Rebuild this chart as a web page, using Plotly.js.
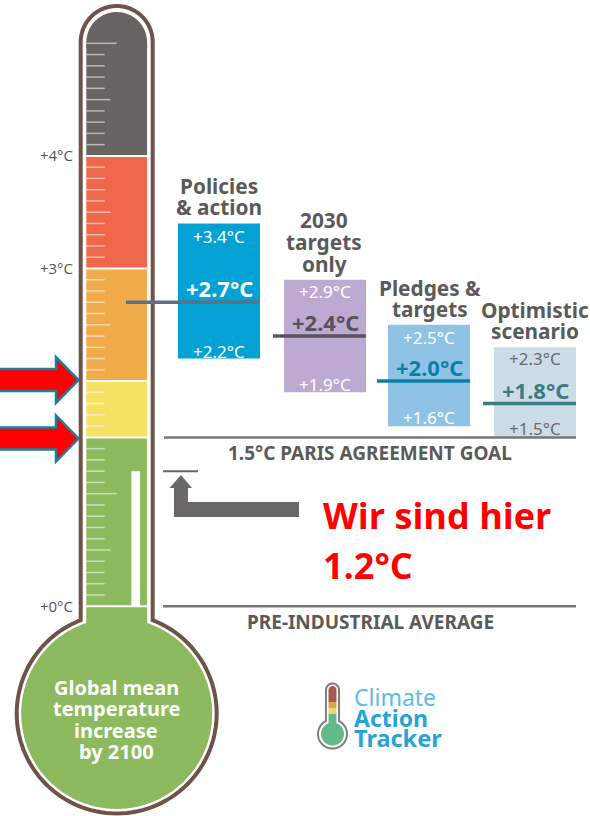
<!DOCTYPE html>
<html><head><meta charset="utf-8">
<script src="https://cdn.plot.ly/plotly-3.0.1.min.js"></script>
<style>html,body{margin:0;padding:0;background:#fff;overflow:hidden}#c{width:590px;height:816px}</style>
</head><body><div id="c"></div>
<script>
// ---- data ----
const scenarioNames = [['Policies','& action'],['2030','targets','only'],['Pledges &','targets'],['Optimistic','scenario']];
const scenarioLow  = [2.2,1.9,1.6,1.5];
const scenarioHigh = [3.4,2.9,2.5,2.3];
const scenarioMean = [2.7,2.4,2.0,1.8];
const bandFrom = [0,1.5,2,3,4];
const bandTo   = [1.5,2,3,4,5];
const axisTicks = [0,3,4];
const axisLabels = ['+0°C','+3°C','+4°C'];
const currentTemp = 1.2;
const parisGoal = 1.5;
const preIndustrial = 0;
const shortTicks = [0.1,0.2,0.3,0.4,0.6,0.7,0.8,0.9,1.1,1.2,1.3,1.4,1.6,1.7,1.8,1.9,2.1,2.2,2.3,2.4,2.6,2.7,2.8,2.9,3.1,3.2,3.3,3.4,3.6,3.7,3.8,3.9,4.1,4.2,4.3,4.4,4.6,4.7,4.8,4.9];
const midTicks = [0.5,2.5,3.5,4.5];
const longTicks = [1,5];

// ---- layout constants ----
const W=590,H=816;
const px=x=>x/W, py=y=>1-y/H;
const colCentre=[219,325,429,535], colWidth=82;
const titleCentre=[219,324,430,535];
const meanStart=[126,273,377,483], meanEnd=[260,366,470,576];
const boxColors=['#03a1d4','#bcaad0','#8fc3e6','#cbdee8'];
const meanColors=['#5d7183','#5a5262','#0c7fa9','#3e7b80'];
const valColors=['#fff','#fff','#fff','#6b6b6b'];
const meanTextColors=['#fff','#57505f','#0c7fa9','#3e7b80'];
const bandColors=['#8db95f','#f5e163','#f2ab4a','#f0684b','#686462'];
const highY=[236,291,337,358], meanY=[288,322,367,390], lowY=[351,384,418,428];
const titleLineY=[[186,207],[220,242,264],[288,309],[310,331]];
const grey='#5b5a5a';
const font='"Noto Sans"';

function arc(cx,cy,r,a0,a1){const n=Math.ceil(Math.abs(a1-a0)/3);const p=[];
  for(let i=0;i<=n;i++){const a=(a0+(a1-a0)*i/n)*Math.PI/180;p.push([cx+r*Math.cos(a),cy+r*Math.sin(a)]);}return p;}
function path(pts,close=true){return pts.map((q,i)=>(i?'L':'M')+px(q[0]).toFixed(5)+','+py(q[1]).toFixed(5)).join(' ')+(close?' Z':'');}
function shp(pts,fill,line,lw,layer){return {type:'path',xref:'paper',yref:'paper',path:path(pts),fillcolor:fill,line:{color:line||fill,width:lw||0},layer:layer||'below'};}
function redArrow(tipY){const t=78.5,b=56;return shp([[-4,tipY-11],[b,tipY-11],[b,tipY-23],[t,tipY],[b,tipY+23],[b,tipY+11],[-4,tipY+11]],'#ff0000','#1a7f9f',2.5,'above');}

const cx=116.7;
const outline=[...arc(cx,42,36,180,360),...arc(cx,713.5,100,-68.9,248.9)];
const bulb=[[86.3,606],[147.1,606],...arc(cx,713.5,95.5,-71.4,251.4)];
const cap=[...arc(cx,42.4,30.4,180,360),[147.1,48],[86.3,48]];
const shapes=[
  shp(outline,'#ffffff','#6f5349',4),
  shp(bulb,bandColors[0]),
  shp(cap,bandColors[4]),
  redArrow(380),redArrow(438.5),
  shp([[181,475],[192,488],[188,488],[188,502],[299,502],[299,517],[174,517],[174,488],[169.5,488]],'#696866',null,0,'above'),
  // logo
  shp([...arc(332.5,690,6.5,180,360),...arc(332.5,734,14.5,-63,243)],'#ffffff','#7d7d7d',2,'above'),
  shp([...arc(332.5,690,4,180,360),[336.5,702],[328.5,702]],'#a8584d',null,0,'above'),
  shp([[328.5,702],[336.5,702],[336.5,708],[328.5,708]],'#d9a657',null,0,'above'),
  shp([[328.5,708],[336.5,708],[336.5,714],[328.5,714]],'#e6d86a',null,0,'above'),
  shp([[328.5,714],[336.5,714],...arc(332.5,734,11.5,-70,250)],'#63b98a',null,0,'above'),
];

// ---- traces ----
const X0=86.3,X1=147.1,B=cx;
function tickTrace(levels,end){const x=[],y=[];levels.forEach(v=>{x.push(X0,end,null);y.push(v,v,null);});
  return {type:'scatter',mode:'lines',x,y,line:{color:'rgba(255,255,255,0.55)',width:1.5},hoverinfo:'skip',showlegend:false};}
const traces=[
  {type:'bar',x:bandFrom.map(()=>B),base:bandFrom,y:bandTo.map((v,i)=>v-bandFrom[i]),width:X1-X0,marker:{color:bandColors,line:{width:0}},hoverinfo:'skip'},
  {type:'bar',x:[135.7],base:[0],y:[currentTemp],width:8.7,marker:{color:'#ffffff',line:{width:0}},hoverinfo:'skip'},
  {type:'bar',x:colCentre,base:scenarioLow,y:scenarioHigh.map((v,i)=>v-scenarioLow[i]),width:colWidth,marker:{color:boxColors,line:{width:0}},hoverinfo:'skip'},
  tickTrace(shortTicks,104.7),tickTrace(midTicks,110.5),tickTrace(longTicks,116.7),
  {type:'scatter',mode:'lines',x:[X0,X1,null,X0,X1,null,X0,X1,null,X0,X1,null,X0,X1],y:[0,0,null,parisGoal,parisGoal,null,2,2,null,3,3,null,4,4],line:{color:'#fff',width:2},hoverinfo:'skip'},
  ...scenarioMean.map((m,i)=>({type:'scatter',mode:'lines',x:[meanStart[i],meanEnd[i]],y:[m,m],line:{color:meanColors[i],width:3.5},hoverinfo:'skip'})),
  {type:'scatter',mode:'lines',x:[164,576],y:[parisGoal,parisGoal],line:{color:'#777',width:2.5},hoverinfo:'skip'},
  {type:'scatter',mode:'lines',x:[163,576],y:[preIndustrial,preIndustrial],line:{color:'#777',width:2.5},hoverinfo:'skip'},
  {type:'scatter',mode:'lines',x:[163,198],y:[currentTemp,currentTemp],line:{color:'#666',width:2},hoverinfo:'skip'},
];

// ---- text ----
function note(text,x,y,size,color,bold,opts){return Object.assign({xref:'x',yref:'paper',x,y:py(y),text:bold?'<b>'+text+'</b>':text,showarrow:false,xanchor:'center',yanchor:'middle',align:'center',font:{family:font,size,color}},opts||{});}
const fmt=v=>'+'+v.toFixed(1)+'°C';
const anns=[];
scenarioNames.forEach((lines,i)=>{
  lines.forEach((t,j)=>anns.push(note(t,titleCentre[i],titleLineY[i][j],20.8,grey,true)));
  anns.push(note(fmt(scenarioHigh[i]),colCentre[i],highY[i],17,valColors[i]));
  anns.push(note(fmt(scenarioMean[i]),colCentre[i],meanY[i],22,meanTextColors[i],true));
  anns.push(note(fmt(scenarioLow[i]),colCentre[i],lowY[i],17,valColors[i]));
});
anns.push(note('1.5°C PARIS AGREEMENT GOAL',370,453,19,grey,true));
anns.push(note('PRE-INDUSTRIAL AVERAGE',370,622,19,grey,true));
anns.push(note('Global mean',116,687,20,'#fff',true));
anns.push(note('temperature',116,708.5,20,'#fff',true));
anns.push(note('increase',116,730,20,'#fff',true));
anns.push(note('by 2100',116,751,20,'#fff',true));
const redFont={family:'"Open Sans"',size:36,color:'#ff0000'};
anns.push(note('Wir sind hier',321,515,36,'#ff0000',true,{xanchor:'left',font:redFont}));
anns.push(note('1.2°C',321,565,36,'#ff0000',true,{xanchor:'left',font:redFont}));
anns.push(note('Climate',352,697,23,'#5dbde2',false,{xanchor:'left'}));
anns.push(note('Action',352,718,23,'#27a3d6',true,{xanchor:'left'}));
anns.push(note('Tracker',352,738,23.5,'#27a3d6',true,{xanchor:'left'}));

const zeroY=606.3,scale=112.6;
const layout={
  width:W,height:H,margin:{l:0,r:0,t:0,b:0},paper_bgcolor:'#fff',plot_bgcolor:'rgba(0,0,0,0)',
  showlegend:false,barmode:'overlay',dragmode:false,hovermode:false,
  xaxis:{range:[0,W],visible:false,fixedrange:true},
  yaxis:{range:[-(H-zeroY)/scale,zeroY/scale],anchor:'free',position:73/W,side:'left',tickmode:'array',tickvals:axisTicks,ticktext:axisLabels,
    ticks:'',showgrid:false,zeroline:false,showline:false,fixedrange:true,tickfont:{family:'"Open Sans"',size:15,color:'#555'}},
  shapes,annotations:anns
};
Plotly.newPlot('c',traces,layout,{displayModeBar:false,staticPlot:true});
</script></body></html>
